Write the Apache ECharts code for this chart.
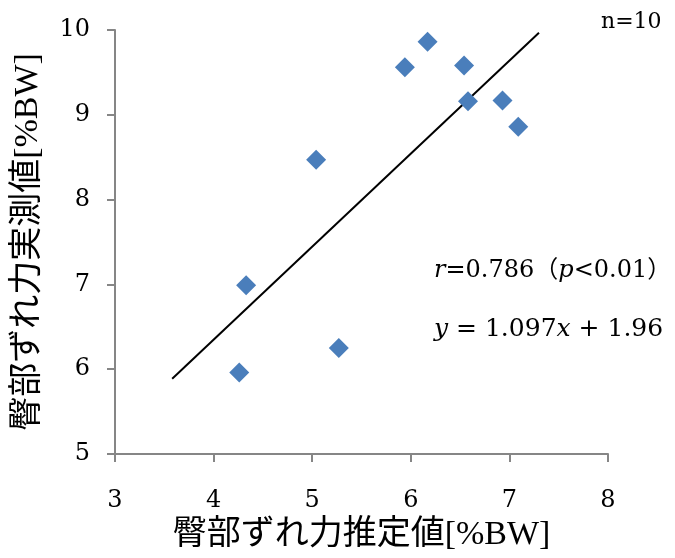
<!DOCTYPE html>
<html>
<head>
<meta charset="utf-8">
<script src="https://cdn.jsdelivr.net/npm/echarts@6/dist/echarts.min.js"></script>
<style>
  html, body { margin: 0; padding: 0; background: #fff; }
  #chart { width: 675px; height: 558px; }
</style>
</head>
<body>
<div id="chart"></div>
<script>
// Estimated vs measured buttock shear force (%BW), n = 10
const estimated = [5.04, 6.17, 5.94, 6.54, 6.58, 6.93, 7.09, 4.33, 4.26, 5.27];
const measured  = [8.47, 9.86, 9.56, 9.58, 9.16, 9.17, 8.86, 6.99, 5.96, 6.25];

// Regression line y = 1.097x + 1.96 over the span where it is drawn
const slope = 1.097;
const intercept = 1.96;
const lineSpan = [3.58, 7.30];

const xTicks = [3, 4, 5, 6, 7, 8];
const yTicks = [5, 6, 7, 8, 9, 10];

const titleFont = "'Liberation Serif', 'Noto Sans CJK JP', serif";
const numFont = "'DejaVu Serif', 'Noto Sans CJK JP', serif";

const points = estimated.map((x, i) => [x, measured[i]]);
const fitLine = lineSpan.map(x => [x, slope * x + intercept]);

const axisGray = '#868686';

const chart = echarts.init(document.getElementById('chart'));
chart.setOption({
  animation: false,
  backgroundColor: '#ffffff',
  grid: { left: 115, right: 67, top: 30, bottom: 104 },
  xAxis: {
    type: 'value',
    min: xTicks[0], max: xTicks[xTicks.length - 1], interval: 1,
    name: '臀部ずれ力推定値[%BW]',
    nameLocation: 'middle',
    nameGap: 64,
    nameTextStyle: { fontFamily: titleFont, fontSize: 34, color: '#000' },
    axisLine: { show: true, lineStyle: { color: axisGray, width: 2 } },
    axisTick: { show: true, length: 8, lineStyle: { color: axisGray, width: 2 } },
    axisLabel: { margin: 35, fontFamily: numFont, fontSize: 24, color: '#000' },
    splitLine: { show: false }
  },
  yAxis: {
    type: 'value',
    min: yTicks[0], max: yTicks[yTicks.length - 1], interval: 1,
    name: '臀部ずれ力実測値[%BW]',
    nameLocation: 'middle',
    nameGap: 70,
    nameTextStyle: { fontFamily: titleFont, fontSize: 34, color: '#000' },
    axisLine: { show: true, lineStyle: { color: axisGray, width: 2 } },
    axisTick: { show: true, length: 8, lineStyle: { color: axisGray, width: 2 } },
    axisLabel: { margin: 25, fontFamily: numFont, fontSize: 24, color: '#000' },
    splitLine: { show: false }
  },
  series: [
    {
      type: 'line',
      data: fitLine,
      symbol: 'none',
      lineStyle: { color: '#000', width: 2 },
      z: 2,
      silent: true
    },
    {
      type: 'scatter',
      data: points,
      symbol: 'diamond',
      symbolSize: 20,
      itemStyle: { color: '#4A7EBB', opacity: 1 },
      z: 3
    }
  ],
  graphic: [
    {
      type: 'text', left: 601, top: 11,
      style: { text: 'n=10', font: "22px 'DejaVu Serif', serif", fill: '#000' }
    },
    {
      type: 'text', left: 434, top: 259,
      style: {
        text: '{i|r}=0.786（{i|p}<0.01）',
        font: "24px 'DejaVu Serif', 'Noto Sans CJK JP', serif",
        fill: '#000',
        rich: { i: { fontStyle: 'italic', fontFamily: numFont, fontSize: 24, fill: '#000' } }
      }
    },
    {
      type: 'text', left: 434, top: 317,
      style: {
        text: '{i|y} = 1.097{i|x} + 1.96',
        font: "25px 'DejaVu Serif', serif",
        fill: '#000',
        rich: { i: { fontStyle: 'italic', fontFamily: numFont, fontSize: 25, fill: '#000' } }
      }
    }
  ]
});
</script>
</body>
</html>
